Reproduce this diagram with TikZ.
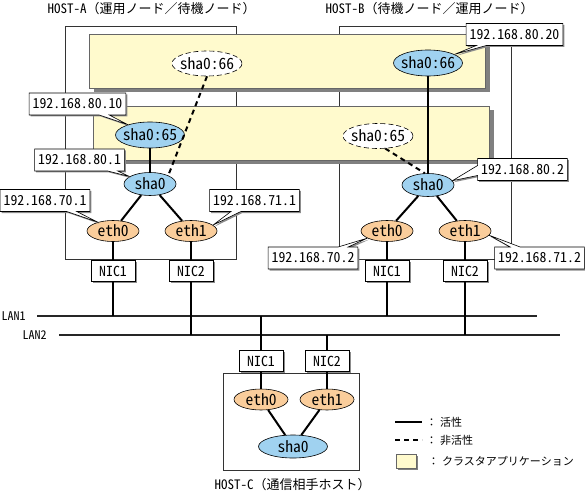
\documentclass[tikz,border=0pt]{standalone}
\usepackage{fontspec}
\setmainfont{Noto Sans CJK JP}
\newfontfamily\hw{Noto Sans CJK JP}[RawFeature=+hwid]
\usetikzlibrary{shapes.geometric,shapes.callouts,shadows}
\definecolor{appyellow}{RGB}{255,250,205}
\definecolor{shablue}{RGB}{160,210,240}
\definecolor{ethorange}{RGB}{250,205,155}
\definecolor{shgray}{RGB}{128,128,128}
\begin{document}
\begin{tikzpicture}[x=1pt,y=-1pt,
  hostbox/.style={draw=black!80, line width=0.8pt},
  appbox/.style={draw=black!60, line width=0.6pt, fill=appyellow},
  smallshadow/.style={drop shadow={shadow xshift=1.5pt, shadow yshift=-1.5pt, fill=black!45, opacity=1}},
  ell/.style={ellipse, draw=black, line width=0.6pt, inner xsep=-10pt, inner ysep=0pt, font=\hw\fontsize{15.5}{16}\selectfont},
  shaact/.style={ell, fill=shablue, minimum width=69pt, minimum height=26pt},
  shainact/.style={ell, fill=white, dash pattern=on 5pt off 3pt, minimum width=70pt, minimum height=25pt},
  sharoot/.style={ell, fill=shablue, minimum width=52pt, minimum height=23pt},
  ethnode/.style={ell, fill=ethorange, minimum width=52pt, minimum height=21pt},
  nicbox/.style={rectangle, draw=black, line width=0.6pt, fill=white, minimum width=44pt, minimum height=21.5pt, inner sep=0pt, font=\hw\fontsize{13.8}{15}\selectfont, smallshadow},
  addr/.style={rectangle callout, draw=black, line width=0.6pt, fill=white, minimum height=22pt, inner xsep=3.5pt, inner ysep=0pt, callout pointer width=10pt, font=\hw\fontsize{13.8}{15}\selectfont, smallshadow},
  conn/.style={line width=2pt},
  dconn/.style={line width=2pt, dash pattern=on 5pt off 4pt},
  lanline/.style={line width=2.2pt, black!85},
  title/.style={font=\fontsize{13}{15}\selectfont, inner sep=0pt},
  lanlab/.style={font=\hw\fontsize{12}{14}\selectfont, inner sep=0pt, anchor=west},
  legtext/.style={font=\fontsize{11}{13}\selectfont, inner sep=0pt, anchor=west},
]
\useasboundingbox[fill=white] (0,0) rectangle (585,494);

% titles
\node[title] (titleA) at (151.5,9) {{\hw HOST-A}（運用ノード／待機ノード）};
\node[title] (titleB) at (429.5,9) {{\hw HOST-B}（待機ノード／運用ノード）};
\node[title] (titleC) at (292.5,485) {{\hw HOST-C}（通信相手ホスト）};

% host boxes
\draw[hostbox] (65,26) rectangle (236,259);
\draw[hostbox] (339,26) rectangle (511,259);
\draw[hostbox] (223,373) rectangle (359,470);

% cluster application boxes
\fill[shgray] (93.5,38.5) rectangle (489.5,92.5);
\draw[appbox] (89,34) rectangle (485,88);
\fill[shgray] (97.5,110.5) rectangle (493.5,164);
\draw[appbox] (93,106) rectangle (489,160);

% LAN lines
\coordinate (lan1w) at (37,316);
\coordinate (lan1e) at (537,316);
\coordinate (lan2w) at (59,335);
\coordinate (lan2e) at (560,335);
\draw[lanline] (lan1w) -- (lan1e);
\draw[lanline] (lan2w) -- (lan2e);
\node[lanlab] (lan1lab) at (1.5,316) {LAN1};
\node[lanlab] (lan2lab) at (22.5,335) {LAN2};

% HOST-A
\node[shainact] (sha66A) at (207,63.5) {sha0:66};
\node[shaact] (sha65A) at (150,135) {sha0:65};
\node[sharoot] (sha0A) at (150,184) {sha0};
\node[ethnode] (eth0A) at (113,231) {eth0};
\node[ethnode] (eth1A) at (191,231) {eth1};
\node[nicbox] (nic1A) at (113,271) {NIC1};
\node[nicbox] (nic2A) at (191,271) {NIC2};

% HOST-B
\node[shaact] (sha66B) at (428,63) {sha0:66};
\node[shainact] (sha65B) at (378,136) {sha0:65};
\node[sharoot] (sha0B) at (428,185) {sha0};
\node[ethnode] (eth0B) at (387,231) {eth0};
\node[ethnode] (eth1B) at (465,231) {eth1};
\node[nicbox] (nic1B) at (387,271) {NIC1};
\node[nicbox] (nic2B) at (465,271) {NIC2};

% HOST-C
\node[nicbox] (nic1C) at (261,361) {NIC1};
\node[nicbox] (nic2C) at (327,361) {NIC2};
\node[ethnode, minimum width=54pt] (eth0C) at (261,399.5) {eth0};
\node[ethnode, minimum width=54pt] (eth1C) at (327,399.5) {eth1};
\node[sharoot, minimum width=69pt] (sha0C) at (293,446.5) {sha0};

% connectors HOST-A
\draw[conn] (sha65A) -- (sha0A);
\draw[dconn] (sha66A.south) -- (sha0A.25);
\draw[conn] (sha0A) -- (eth0A);
\draw[conn] (sha0A) -- (eth1A);
\draw[conn] (eth0A) -- (nic1A);
\draw[conn] (eth1A) -- (nic2A);
\draw[conn] (nic1A) -- (nic1A |- lan1w);
\draw[conn] (nic2A) -- (nic2A |- lan2w);

% connectors HOST-B
\draw[conn] (sha66B) -- (sha0B);
\draw[dconn] (sha65B.-60) -- (sha0B.105);
\draw[conn] (sha0B) -- (eth0B);
\draw[conn] (sha0B) -- (eth1B);
\draw[conn] (eth0B) -- (nic1B);
\draw[conn] (eth1B) -- (nic2B);
\draw[conn] (nic1B) -- (nic1B |- lan1w);
\draw[conn] (nic2B) -- (nic2B |- lan2w);

% connectors HOST-C
\draw[conn] (nic1C) -- (nic1C |- lan1w);
\draw[conn] (nic2C) -- (nic2C |- lan2w);
\draw[conn] (nic1C) -- (eth0C);
\draw[conn] (nic2C) -- (eth1C);
\draw[conn] (eth0C) -- (sha0C);
\draw[conn] (eth1C) -- (sha0C);

% address callouts
\node[addr, callout absolute pointer={(sha65A.155)}] (ip8010) at (77.5,104) {192.168.80.10};
\node[addr, callout absolute pointer={(sha0A.160)}] (ip801) at (79.5,160) {192.168.80.1};
\node[addr, callout absolute pointer={(eth0A.150)}] (ip701) at (45,200.5) {192.168.70.1};
\node[addr, callout absolute pointer={(eth1A.15)}] (ip711) at (254.5,200.5) {192.168.71.1};
\node[addr, callout absolute pointer={(sha66B.18)}] (ip8020) at (514.5,34.5) {192.168.80.20};
\node[addr, callout absolute pointer={(sha0B.10)}] (ip802) at (522.5,169.5) {192.168.80.2};
\node[addr, callout absolute pointer={(eth0B.200)}] (ip702) at (313,258) {192.168.70.2};
\node[addr, callout absolute pointer={(eth1B.-10)}] (ip712) at (539.5,258) {192.168.71.2};

% legend
\coordinate (lg1a) at (395,422);
\coordinate (lg1b) at (422,422);
\draw[conn] (lg1a) -- (lg1b);
\node[legtext] (lgt1) at (426,422) {：\hspace{3pt}活性};
\coordinate (lg2a) at (395,440);
\coordinate (lg2b) at (422,440);
\draw[dconn] (lg2a) -- (lg2b);
\node[legtext] (lgt2) at (426,440) {：\hspace{3pt}非活性};
\fill[shgray] (397.5,455.5) rectangle (417.5,469.5);
\draw[appbox] (396,454) rectangle (416,468);
\node[legtext] (lgt3) at (428,461) {：\hspace{3pt}クラスタアプリケーション};
\end{tikzpicture}
\end{document}
